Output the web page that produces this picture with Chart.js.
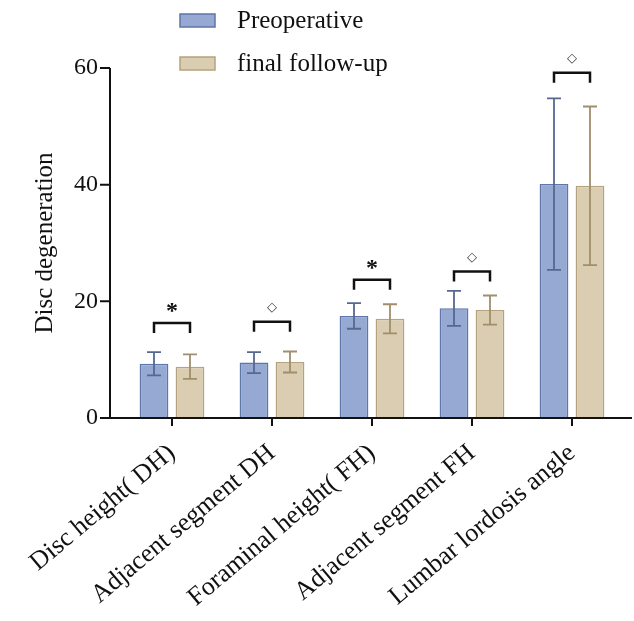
<!DOCTYPE html>
<html>
<head>
<meta charset="utf-8">
<script src="https://cdn.jsdelivr.net/npm/chart.js@4"></script>
<style>
  html, body { margin: 0; padding: 0; background: #fff; }
  #wrap { width: 634px; height: 621px; }
</style>
</head>
<body>
<div id="wrap"><canvas id="chart" width="634" height="621"></canvas></div>
<script>
const categories = ['Disc height( DH)', 'Adjacent segment DH', 'Foraminal height( FH)', 'Adjacent segment FH', 'Lumbar lordosis angle'];
const preopMean = [9.3, 9.5, 17.5, 18.8, 40.1];
const preopSD = [2.0, 1.8, 2.2, 3.0, 14.7];
const finalMean = [8.8, 9.6, 17.0, 18.5, 39.8];
const finalSD = [2.1, 1.8, 2.5, 2.5, 13.6];
const sigMarks = ['*', '\u25C7', '*', '\u25C7', '\u25C7'];
const bracketLevel = [16.3, 16.5, 23.7, 25.1, 59.2];
const yTicks = [0, 20, 40, 60];

const serif = "'Liberation Serif', 'Times New Roman', serif";

const preopFill = '#95a9d3';
const preopEdge = '#5f76a8';
const preopErr = '#55698f';
const finalFill = '#dacdb2';
const finalEdge = '#b5a37f';
const finalErr = '#a08e6c';

// draws axes, error bars, brackets and legend by hand
const extras = {
  id: 'extras',
  afterDatasetsDraw(chart) {
    const ctx = chart.ctx;
    const y = chart.scales.y;
    const x = chart.scales.x;
    const area = chart.chartArea;
    const axisX = area.left - 12;

    // error bars
    [[0, preopMean, preopSD, preopErr], [1, finalMean, finalSD, finalErr]].forEach(([di, means, sds, col]) => {
      chart.getDatasetMeta(di).data.forEach((bar, i) => {
        const top = y.getPixelForValue(means[i] + sds[i]);
        const bot = y.getPixelForValue(means[i] - sds[i]);
        ctx.save();
        ctx.strokeStyle = col;
        ctx.lineWidth = 1.8;
        ctx.beginPath();
        ctx.moveTo(bar.x, top); ctx.lineTo(bar.x, bot);
        ctx.moveTo(bar.x - 7, top); ctx.lineTo(bar.x + 7, top);
        ctx.moveTo(bar.x - 7, bot); ctx.lineTo(bar.x + 7, bot);
        ctx.stroke();
        ctx.restore();
      });
    });

    // significance brackets
    const m0 = chart.getDatasetMeta(0).data;
    const m1 = chart.getDatasetMeta(1).data;
    categories.forEach((c, i) => {
      const by = y.getPixelForValue(bracketLevel[i]);
      const x0 = m0[i].x, x1 = m1[i].x;
      ctx.save();
      ctx.strokeStyle = '#111';
      ctx.lineWidth = 2.5;
      ctx.beginPath();
      ctx.moveTo(x0, by + 10); ctx.lineTo(x0, by); ctx.lineTo(x1, by); ctx.lineTo(x1, by + 10);
      ctx.stroke();
      ctx.fillStyle = '#111';
      ctx.textAlign = 'center';
      ctx.textBaseline = 'middle';
      if (sigMarks[i] === '*') {
        ctx.font = 'bold 24px ' + serif;
        ctx.fillText('*', (x0 + x1) / 2, by - 11);
      } else {
        ctx.font = '13px "DejaVu Sans"';
        ctx.fillStyle = '#333';
        ctx.fillText(sigMarks[i], (x0 + x1) / 2, by - 14);
      }
      ctx.restore();
    });

    // axes
    ctx.save();
    ctx.strokeStyle = '#111';
    ctx.lineWidth = 2;
    ctx.beginPath();
    ctx.moveTo(axisX, y.getPixelForValue(60));
    ctx.lineTo(axisX, area.bottom);
    ctx.lineTo(chart.width - 2, area.bottom);
    yTicks.forEach(t => {
      const ty = y.getPixelForValue(t);
      ctx.moveTo(axisX - 10, ty); ctx.lineTo(axisX, ty);
    });
    categories.forEach((c, i) => {
      const tx = x.getPixelForValue(i);
      ctx.moveTo(tx, area.bottom); ctx.lineTo(tx, area.bottom + 8);
    });
    ctx.stroke();
    ctx.restore();

    // legend
    const items = [['Preoperative', preopFill, preopEdge, 20], ['final follow-up', finalFill, finalEdge, 63]];
    items.forEach(([label, fill, edge, cy]) => {
      ctx.save();
      ctx.fillStyle = fill;
      ctx.strokeStyle = edge;
      ctx.lineWidth = 1.5;
      ctx.fillRect(180, cy - 6, 35, 13);
      ctx.strokeRect(180, cy - 6, 35, 13);
      ctx.fillStyle = '#111';
      ctx.font = '25px ' + serif;
      ctx.textAlign = 'left';
      ctx.textBaseline = 'middle';
      ctx.fillText(label, 237, cy + 1);
      ctx.restore();
    });
  }
};

new Chart(document.getElementById('chart'), {
  type: 'bar',
  data: {
    labels: categories,
    datasets: [
      { label: 'Preoperative', data: preopMean, backgroundColor: preopFill, borderColor: preopEdge, borderWidth: 1.5 },
      { label: 'final follow-up', data: finalMean, backgroundColor: finalFill, borderColor: finalEdge, borderWidth: 1.5 }
    ]
  },
  options: {
    responsive: false,
    animation: false,
    categoryPercentage: 0.72,
    barPercentage: 0.8,
    layout: { padding: { top: 68, right: 12, left: 0, bottom: 0 } },
    plugins: { legend: { display: false }, tooltip: { enabled: false } },
    scales: {
      x: {
        grid: { display: false },
        border: { display: false },
        ticks: {
          autoSkip: false,
          minRotation: 40,
          maxRotation: 40,
          padding: 12,
          color: '#111',
          font: { family: serif, size: 26 }
        },
        afterFit(scale) { scale.height = 203; }
      },
      y: {
        min: 0,
        max: 60,
        grid: { display: false },
        border: { display: false },
        ticks: {
          stepSize: 20,
          padding: 16,
          color: '#111',
          font: { family: serif, size: 24 }
        },
        title: {
          display: true,
          text: 'Disc degeneration',
          color: '#111',
          padding: { top: 30, bottom: 0 },
          font: { family: serif, size: 25 }
        },
        afterFit(scale) { scale.width = 122; }
      }
    }
  },
  plugins: [extras]
});
</script>
</body>
</html>
